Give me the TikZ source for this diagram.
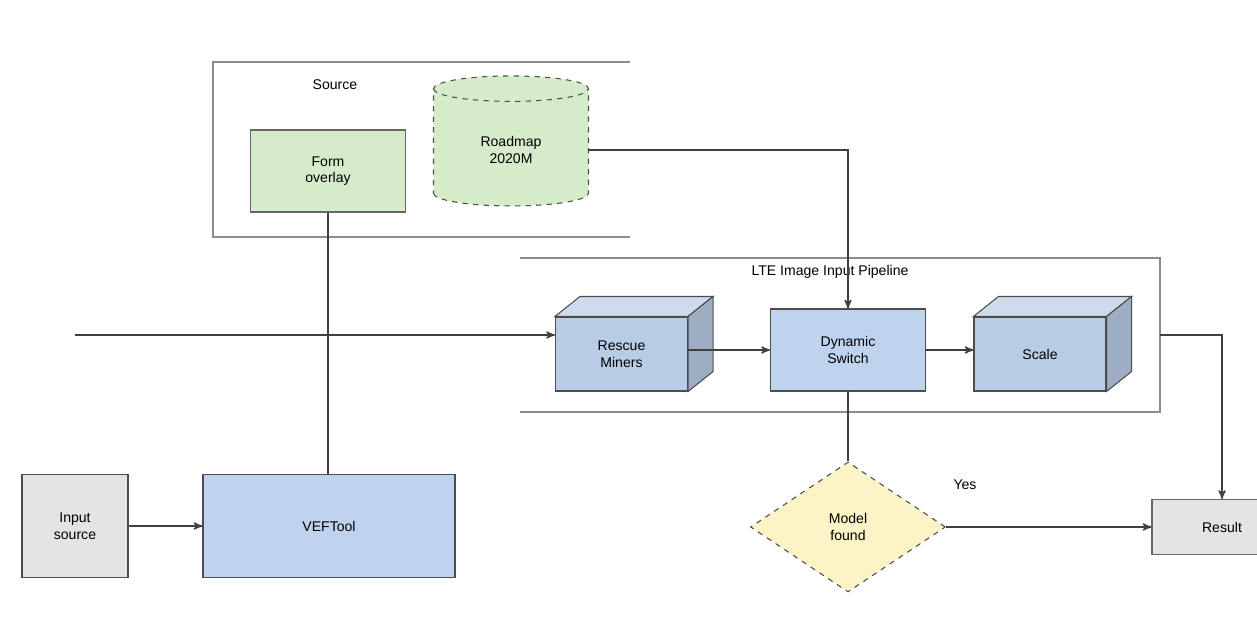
\documentclass[tikz,border=0pt]{standalone}
\usepackage{fontspec}
\setmainfont{Liberation Sans}
\usetikzlibrary{shapes.geometric,arrows,positioning,calc}

\definecolor{leafgreen}{HTML}{D6EBC9}
\definecolor{paleblue}{HTML}{BFD3EE}
\definecolor{cubeblue}{HTML}{B9CCE6}
\definecolor{paleyellow}{HTML}{FCF3C6}
\definecolor{palegray}{HTML}{E4E4E4}

\begin{document}
\begin{tikzpicture}[>=stealth',semithick,
                    every node/.style={align=center,font=\footnotesize}]
  \tikzstyle{frame}=[draw=black!45,thick]
  \tikzstyle{plainbox}=[draw=black!60,minimum width=3.1cm,minimum height=1.64cm]
  \tikzstyle{cubefront}=[draw=black!70,fill=cubeblue,minimum width=2.64cm,minimum height=1.48cm]
  \tikzstyle{cubeside}=[draw=black!70,fill=cubeblue!70]
  \tikzstyle{link}=[draw=black!75,thick]

  \useasboundingbox (0,0) rectangle (25.14,-12.62);

  % upper group
  \draw[frame] (12.6,-1.24) -- (4.26,-1.24) -- (4.26,-4.74) -- (12.6,-4.74);
  \node (srclabel) at (6.7,-1.7) {Source};
  \node[plainbox,fill=leafgreen] (overlay) at (6.56,-3.42) {Form\\overlay};
  \node[cylinder,shape border rotate=90,aspect=0.35,draw=black!70,dashed,
        fill=leafgreen,minimum width=3.1cm,minimum height=2.6cm] (store) at (10.22,-3.0) {Roadmap\\2020M};

  % pipeline group
  \draw[frame] (10.4,-5.16) -- (23.2,-5.16) -- (23.2,-8.24) -- (10.4,-8.24);
  \node (pipelabel) at (16.6,-5.44) {LTE Image Input Pipeline};
  \coordinate (pipeR) at (23.2,-6.7);

  \node[cubefront] (rescue) at (12.43,-7.08) {Rescue\\Miners};
  \node[plainbox,fill=paleblue,draw=black!70] (switch) at (16.96,-7.0) {Dynamic\\Switch};
  \node[cubefront] (scale) at (20.8,-7.08) {Scale};
  \foreach \c in {rescue,scale} {
    \filldraw[cubeside] (\c.north west) -- ++(0.5,0.4) -- ($(\c.north east)+(0.5,0.4)$) -- (\c.north east) -- cycle;
    \filldraw[cubeside,fill=cubeblue!85!black] (\c.north east) -- ++(0.5,0.4) -- ($(\c.south east)+(0.5,0.4)$) -- (\c.south east) -- cycle;
  }

  % lower row
  \node[draw=black!70,fill=palegray,minimum width=2.12cm,minimum height=2.06cm] (input) at (1.5,-10.52) {Input\\source};
  \node[draw=black!70,fill=paleblue,minimum width=5.04cm,minimum height=2.06cm] (veftool) at (6.58,-10.52) {VEFTool};
  \node[diamond,aspect=1.5,draw=black!70,dashed,fill=paleyellow,minimum width=3.9cm,minimum height=2.6cm,inner sep=1pt] (found) at (16.96,-10.54) {Model\\found};
  \node (yes) at (19.3,-9.7) {Yes};
  \node[draw=black!60,fill=palegray,minimum width=2.8cm,minimum height=1.1cm] (result) at (24.44,-10.54) {Result};
  \coordinate (feed) at (1.5,-6.7);

  \draw[link,->] (feed) -- (rescue.west |- feed);
  \draw[link,->] (rescue.east |- switch) -- (switch.west);
  \draw[link,->] (switch.east) -- (scale.west |- switch);
  \draw[link,->] (input) -- (veftool);
  \draw[link,->] (found) -- (result);
  \draw[link,->] (store.east) -| (switch.north);
  \draw[link] (overlay.south) -- (overlay.south |- veftool.north);
  \draw[link] (switch.south) -- (found.north);
  \draw[link,->] (pipeR) -| (result.north);
\end{tikzpicture}
\end{document}
